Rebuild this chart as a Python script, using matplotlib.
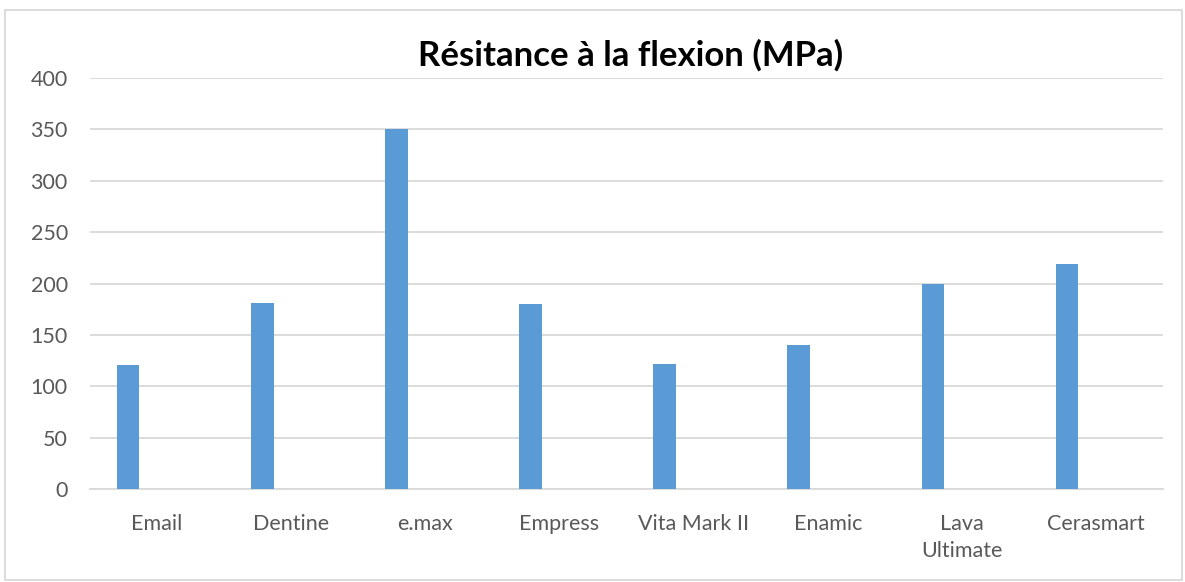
import matplotlib.pyplot as plt
import numpy as np

categories = ["Email", "Dentine", "e.max", "Empress", "Vita Mark II", "Enamic", "Lava\nUltimate", "Cerasmart"]
values = [121, 181, 350, 180, 122, 140, 200, 219]

plt.rcParams["font.family"] = ["Lato", "DejaVu Sans"]

fig = plt.figure(figsize=(11.85, 5.82), dpi=100)
ax = fig.add_axes([90 / 1185, 1 - 489 / 582, (1163 - 90) / 1185, (489 - 78) / 582])

x = np.arange(len(categories))
ax.bar(x - 0.216, values, width=0.169, color="#5B9BD5", zorder=3)

ax.set_xlim(-0.5, len(categories) - 0.5)
ax.set_ylim(0, 400)
ax.set_yticks(range(0, 401, 50))
ax.set_xticks(x)
ax.set_xticklabels(categories, linespacing=1.45)
ax.tick_params(axis="both", length=0, labelsize=15.5, colors="#595959")
ax.tick_params(axis="x", pad=18)
ax.tick_params(axis="y", pad=16)
ax.yaxis.grid(True, color="#D9D9D9", linewidth=1.3, zorder=0)
for s in ["top", "right", "left"]:
    ax.spines[s].set_visible(False)
ax.spines["bottom"].set_color("#D9D9D9")
ax.spines["bottom"].set_linewidth(1.3)

fig.text(631 / 1185, 1 - 55 / 582, "Résitance à la flexion (MPa)", ha="center", va="center",
         fontsize=25, fontweight="bold", color="black")

border = plt.Rectangle((5 / 1185, 2 / 582), 1177 / 1185, 570 / 582, transform=fig.transFigure,
                       fill=False, edgecolor="#D9D9D9", linewidth=1.3)
fig.add_artist(border)

fig.savefig("out.png", dpi=100)
